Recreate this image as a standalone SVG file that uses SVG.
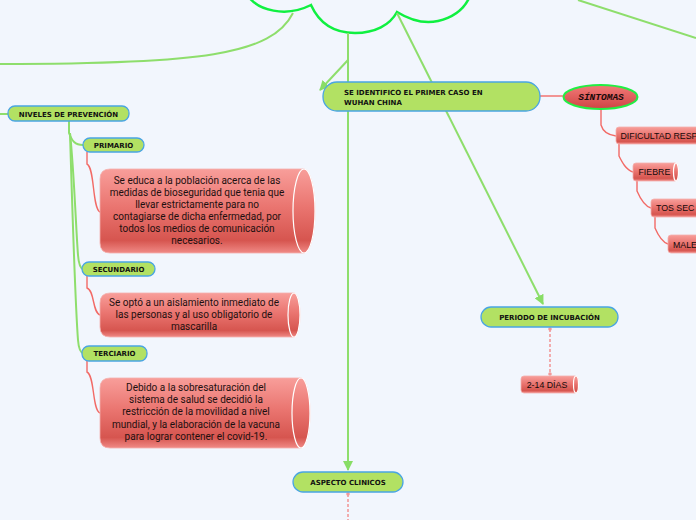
<svg xmlns="http://www.w3.org/2000/svg" width="696" height="520" viewBox="0 0 696 520">
<defs>
<linearGradient id="red" x1="0" y1="0" x2="0" y2="1">
<stop offset="0" stop-color="#f89e9a"/>
<stop offset="0.45" stop-color="#ea7570"/>
<stop offset="0.85" stop-color="#d6554f"/>
<stop offset="1" stop-color="#f08a86"/>
</linearGradient>
<linearGradient id="ell" x1="0" y1="0" x2="0" y2="1">
<stop offset="0" stop-color="#f27a78"/>
<stop offset="1" stop-color="#cf4444"/>
</linearGradient>
<marker id="ga" viewBox="0 0 10 10" refX="9" refY="5" markerWidth="5" markerHeight="5" orient="auto">
<path d="M0,0 L10,5 L0,10 Z" fill="#88dd66"/>
</marker>
<style>
.g{fill:none;stroke:#8ede6c;stroke-width:2}
.r{fill:none;stroke:#f26a66;stroke-width:1.4}
.rd{fill:none;stroke:#f29a9a;stroke-width:1.6;stroke-dasharray:3 2}
.gn{fill:#b2e163;stroke:#4aa5e2;stroke-width:1.3}
.gt{font-family:"DejaVu Sans",sans-serif;font-weight:bold;font-size:7px;fill:#111}
.rb{fill:url(#red);stroke:#f4b0ad;stroke-width:0.8}
.cap{fill:url(#red);stroke:#fff;stroke-width:1.2}
.bt{font-family:Roboto,"Liberation Sans",sans-serif;font-size:10px;fill:#1e1010;text-anchor:middle}
.st{font-family:"Liberation Sans",Arial,sans-serif;font-size:8.8px;fill:#140a0a}
</style>
</defs>
<rect width="696" height="520" fill="#f2f6fd"/>
<g id="cloud">
<path d="M248,-4 C258,10 285,18 311,5 C320,25 335,33 355,33 C375,33 390,25 397,12 C410,20 425,24 438,21 C455,17 465,8 470,-4" fill="#f2f6fd" stroke="#10f040" stroke-width="2.5"/>
</g>
<g id="connectors">
<path class="g" d="M293,13 C272,55 200,64 0,64"/>
<path class="g" d="M578,0 L696,38"/>
<path class="g" d="M397,13 L543,304" marker-end="url(#ga)"/>
<path class="g" d="M348,33 V470" marker-end="url(#ga)"/>
<path class="g" d="M348,60 L320,90" marker-end="url(#ga)"/>
<path class="g" d="M0,114 H8"/>
<path class="g" d="M69,121 V133 C72,141 75,145 83,145"/>
<path class="g" d="M70,133 C74,170 76,230 78,255 Q79,268 83,269"/>
<path class="g" d="M70,133 C72,200 75,300 78,340 Q79,352 83,353"/>
<path class="r" d="M87,152 V164 C95,168 92,208 100,212"/>
<path class="r" d="M87,276 V288 C95,291 92,312 100,315"/>
<path class="r" d="M87,361 V372 C95,376 92,410 100,413"/>
<path class="r" d="M540,96 H563"/>
<path class="r" d="M601,109 V125 C603,132 608,135 616,136"/>
<path class="r" d="M619,144 V156 C622,162 626,170 633,172"/>
<path class="r" d="M637,181 V191 C640,198 644,206 651,208"/>
<path class="r" d="M655,217 V228 C658,235 662,242 668,244"/>
<path class="rd" d="M550,329 V374"/>
<circle cx="550" cy="329" r="1.8" fill="#f29a9a"/>
<circle cx="550" cy="374" r="1.8" fill="#f29a9a"/>
<path class="rd" d="M348,494 V520"/>
<circle cx="348" cy="494" r="1.8" fill="#f29a9a"/>
</g>
<g id="n-identifico">
<rect class="gn" x="323" y="82" width="217" height="29" rx="14"/>
<text class="gt" x="344" y="95">SE IDENTIFICO EL PRIMER CASO EN</text>
<text class="gt" x="344" y="104.5">WUHAN CHINA</text>
</g>
<g id="n-sintomas">
<ellipse cx="600.5" cy="97" rx="37" ry="12" fill="url(#ell)" stroke="#22ee44" stroke-width="2"/>
<text x="601" y="100" text-anchor="middle" font-family="Liberation Mono,monospace" font-weight="bold" font-style="italic" font-size="9.5px" fill="#1a0a0a">SÍNTOMAS</text>
</g>
<g id="n-dificultad">
<rect class="rb" x="616" y="127" width="100" height="17" rx="3"/>
<text class="st" x="620.5" y="138.5" font-size="8.3px">DIFICULTAD RESP</text>
</g>
<g id="n-fiebre">
<rect class="rb" x="633" y="163" width="45" height="18" rx="3"/>
<ellipse class="cap" cx="676" cy="172" rx="2.5" ry="9"/>
<text class="st" x="638.5" y="175">FIEBRE</text>
</g>
<g id="n-tos">
<rect class="rb" x="651" y="199" width="60" height="18" rx="3"/>
<text class="st" x="656" y="211">TOS SEC</text>
</g>
<g id="n-malestar">
<rect class="rb" x="668" y="235" width="40" height="18" rx="3"/>
<text class="st" x="673" y="247.5">MALE</text>
</g>
<g id="n-niveles">
<rect class="gn" x="8" y="106" width="121" height="15" rx="7"/>
<text class="gt" x="68.5" y="116.5" text-anchor="middle">NIVELES DE PREVENCIÓN</text>
</g>
<g id="n-primario">
<rect class="gn" x="83" y="138" width="61" height="14" rx="7"/>
<text class="gt" x="113.5" y="148" text-anchor="middle">PRIMARIO</text>
</g>
<g id="n-secundario">
<rect class="gn" x="82" y="262" width="73" height="14" rx="7"/>
<text class="gt" x="118.5" y="272" text-anchor="middle">SECUNDARIO</text>
</g>
<g id="n-terciario">
<rect class="gn" x="82" y="346" width="65" height="15" rx="7"/>
<text class="gt" x="114.5" y="356" text-anchor="middle">TERCIARIO</text>
</g>
<g id="n-texto1">
<path class="rb" d="M110,169 H304 A11,42 0 0 1 304,253 H110 Q100,253 100,243 V179 Q100,169 110,169 Z"/>
<ellipse class="cap" cx="304" cy="211" rx="11" ry="42"/>
<text class="bt" x="197" y="184">Se educa a la población acerca de las</text>
<text class="bt" x="197" y="196">medidas de bioseguridad que tenia que</text>
<text class="bt" x="197" y="208">llevar estrictamente para no</text>
<text class="bt" x="197" y="220">contagiarse de dicha enfermedad, por</text>
<text class="bt" x="197" y="232">todos los medios de comunicación</text>
<text class="bt" x="197" y="244">necesarios.</text>
</g>
<g id="n-texto2">
<path class="rb" d="M110,293 H294 A6,22 0 0 1 294,337 H110 Q100,337 100,327 V303 Q100,293 110,293 Z"/>
<ellipse class="cap" cx="294" cy="315" rx="6" ry="22"/>
<text class="bt" x="194" y="306">Se optó a un aislamiento inmediato de</text>
<text class="bt" x="194" y="318">las personas y al uso obligatorio de</text>
<text class="bt" x="194" y="330">mascarilla</text>
</g>
<g id="n-texto3">
<path class="rb" d="M110,378 H301 A9,35 0 0 1 301,448 H110 Q100,448 100,438 V388 Q100,378 110,378 Z"/>
<ellipse class="cap" cx="301" cy="413" rx="9" ry="35"/>
<text class="bt" x="196" y="391">Debido a la sobresaturación del</text>
<text class="bt" x="196" y="403">sistema de salud se decidió la</text>
<text class="bt" x="196" y="415">restricción de la movilidad a nivel</text>
<text class="bt" x="196" y="427.5">mundial, y la elaboración de la vacuna</text>
<text class="bt" x="196" y="439.5">para lograr contener el covid-19.</text>
</g>
<g id="n-periodo">
<rect class="gn" x="481" y="307" width="137" height="20" rx="10"/>
<text class="gt" x="549.5" y="320" text-anchor="middle">PERIODO DE INCUBACIÓN</text>
</g>
<g id="n-dias">
<rect class="rb" x="521" y="376" width="57" height="17" rx="3"/>
<ellipse class="cap" cx="576" cy="384.5" rx="2.5" ry="8.5"/>
<text class="st" x="547" y="388" text-anchor="middle" font-size="9.5px">2-14 DÍAS</text>
</g>
<g id="n-aspecto">
<rect class="gn" x="293" y="472" width="110" height="20" rx="10"/>
<text class="gt" x="348" y="485" text-anchor="middle">ASPECTO CLINICOS</text>
</g>
</svg>
